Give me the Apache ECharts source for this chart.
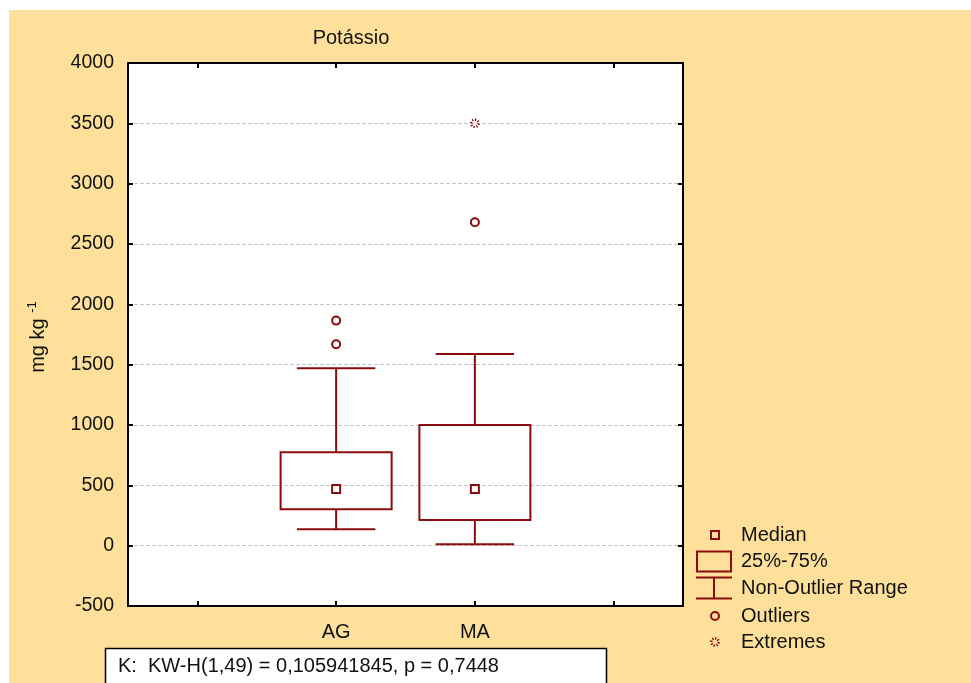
<!DOCTYPE html>
<html>
<head>
<meta charset="utf-8">
<script src="https://cdn.jsdelivr.net/npm/echarts@6/dist/echarts.min.js"></script>
<style>
html,body{margin:0;padding:0;background:#fff;}
#bg{position:absolute;left:9px;top:10px;width:962px;height:673px;background:#fee09a;}
#main{position:absolute;left:0;top:0;width:971px;height:683px;}
</style>
</head>
<body>
<div id="bg"></div>
<div id="main"></div>
<script>
// ---- data ----
const categories = ['AG', 'MA'];
const whiskerLow = [136, 12];
const q1 = [302, 213];
const median = [470, 470];
const q3 = [774, 1000];
const whiskerHigh = [1470, 1589];
const outliers = [['AG', 1865], ['AG', 1669], ['MA', 2680]];
const extremes = [['MA', 3500]];
const yTicks = { min: -500, max: 4000, step: 500 };
const titleText = 'Potássio';
const statText = 'K:  KW-H(1,49) = 0,105941845, p = 0,7448';
const legendItems = ['Median', '25%-75%', 'Non-Outlier Range', 'Outliers', 'Extremes'];

// ---- styles ----
const RED = '#8b0c0c';
const FONT = 'Liberation Sans, Arial, sans-serif';
const FS = 20;
const FS_TICK = 19.5;
const TXT = '#111';

const axisCats = [''].concat(categories, ['']);
const boxData = categories.map((c, i) => [c, whiskerLow[i], q1[i], median[i], q3[i], whiskerHigh[i]]);

function renderBox(params, api) {
  const x = api.value(0);
  const pLow = api.coord([x, api.value(1)]);
  const pQ1 = api.coord([x, api.value(2)]);
  const pMed = api.coord([x, api.value(3)]);
  const pQ3 = api.coord([x, api.value(4)]);
  const pHigh = api.coord([x, api.value(5)]);
  const band = api.size([1, 0])[0];
  const bw = band * 0.8;
  const cw = band * 0.565;
  const cx = pMed[0];
  const st = { stroke: RED, lineWidth: 2, fill: null };
  return {
    type: 'group',
    children: [
      { type: 'line', shape: { x1: cx, y1: pQ3[1], x2: cx, y2: pHigh[1] }, style: st },
      { type: 'line', shape: { x1: cx, y1: pQ1[1], x2: cx, y2: pLow[1] }, style: st },
      { type: 'line', shape: { x1: cx - cw / 2, y1: pHigh[1], x2: cx + cw / 2, y2: pHigh[1] }, style: st },
      { type: 'line', shape: { x1: cx - cw / 2, y1: pLow[1], x2: cx + cw / 2, y2: pLow[1] }, style: st },
      { type: 'rect', shape: { x: cx - bw / 2, y: pQ3[1], width: bw, height: pQ1[1] - pQ3[1] }, style: { stroke: RED, lineWidth: 2, fill: 'rgba(255,255,255,0)' } },
      { type: 'rect', shape: { x: cx - 4, y: pMed[1] - 4, width: 8, height: 8 }, style: { stroke: RED, lineWidth: 2, fill: '#fff' } }
    ]
  };
}

function starburst(cx, cy) {
  const ch = [];
  for (let k = 0; k < 8; k++) {
    const a = k * Math.PI / 4 + 0.2;
    ch.push({ type: 'line', shape: { x1: cx + 2.5 * Math.cos(a), y1: cy + 2.5 * Math.sin(a), x2: cx + 5 * Math.cos(a), y2: cy + 5 * Math.sin(a) }, style: { stroke: RED, lineWidth: 1.3 } });
  }
  return ch;
}

function renderExtreme(params, api) {
  const p = api.coord([api.value(0), api.value(1)]);
  return { type: 'group', children: starburst(p[0], p[1]) };
}

// legend graphics
const LX = 715, LT = 741;
const legendY = [535, 561, 588, 616, 642];
const legendGraphics = [
  { type: 'rect', shape: { x: LX - 4, y: legendY[0] - 4, width: 8, height: 8 }, style: { stroke: RED, lineWidth: 2, fill: null } },
  { type: 'rect', shape: { x: 697, y: 551.5, width: 34, height: 20 }, style: { stroke: RED, lineWidth: 2, fill: null } },
  { type: 'line', shape: { x1: 696, y1: 577.5, x2: 732, y2: 577.5 }, style: { stroke: RED, lineWidth: 2 } },
  { type: 'line', shape: { x1: 696, y1: 598.5, x2: 732, y2: 598.5 }, style: { stroke: RED, lineWidth: 2 } },
  { type: 'line', shape: { x1: 714, y1: 577.5, x2: 714, y2: 598.5 }, style: { stroke: RED, lineWidth: 2 } },
  { type: 'circle', shape: { cx: LX, cy: legendY[3], r: 4 }, style: { stroke: RED, lineWidth: 2, fill: null } },
  { type: 'group', children: starburst(LX, legendY[4]) }
].concat(legendItems.map((t, i) => ({
  type: 'text', x: LT, y: legendY[i],
  style: { text: t, font: FS + 'px ' + FONT, fill: TXT, verticalAlign: 'middle' }
})));

const chart = echarts.init(document.getElementById('main'), null, { renderer: 'canvas' });
const axisLineStyle = { show: true, onZero: false, lineStyle: { color: '#000', width: 2 } };
const tickStyle = { show: true, inside: true, length: 5, lineStyle: { color: '#000', width: 2 } };

chart.setOption({
  animation: false,
  backgroundColor: 'transparent',
  title: {
    text: titleText, left: 346, top: 23, textAlign: 'center',
    textStyle: { fontSize: FS, fontWeight: 'normal', color: TXT, fontFamily: FONT }
  },
  grid: { show: true, left: 128, top: 63, width: 555, height: 543, backgroundColor: '#fff', borderWidth: 0 },
  xAxis: [
    {
      type: 'category', data: axisCats, position: 'bottom', boundaryGap: true,
      axisLine: axisLineStyle, axisTick: Object.assign({ alignWithLabel: true, interval: 0 }, tickStyle),
      axisLabel: { interval: 0, fontSize: FS, color: TXT, fontFamily: FONT, margin: 16 },
      splitLine: { show: false }
    },
    {
      type: 'category', data: axisCats, position: 'top', boundaryGap: true,
      axisLine: axisLineStyle, axisTick: Object.assign({ alignWithLabel: true, interval: 0 }, tickStyle),
      axisLabel: { show: false }, splitLine: { show: false }
    }
  ],
  yAxis: [
    {
      type: 'value', min: yTicks.min, max: yTicks.max, interval: yTicks.step, position: 'left',
      axisLine: axisLineStyle, axisTick: tickStyle,
      axisLabel: { fontSize: FS_TICK, color: TXT, fontFamily: FONT, margin: 14, formatter: v => String(v) },
      splitLine: { show: true, lineStyle: { color: '#c4c4c4', type: [4, 2], width: 1 } }
    },
    {
      type: 'value', min: yTicks.min, max: yTicks.max, interval: yTicks.step, position: 'right',
      axisLine: axisLineStyle, axisTick: tickStyle,
      axisLabel: { show: false }, splitLine: { show: false }
    }
  ],
  series: [
    {
      type: 'custom', xAxisIndex: 0, yAxisIndex: 0, data: boxData,
      encode: { x: 0, y: [1, 2, 3, 4, 5] }, renderItem: renderBox, z: 5
    },
    {
      type: 'scatter', xAxisIndex: 0, yAxisIndex: 0, data: outliers,
      symbol: 'circle', symbolSize: 8,
      itemStyle: { color: '#fff', borderColor: RED, borderWidth: 2, opacity: 1 }, z: 6
    },
    {
      type: 'custom', xAxisIndex: 0, yAxisIndex: 0, data: extremes,
      encode: { x: 0, y: 1 }, renderItem: renderExtreme, z: 6
    }
  ],
  graphic: [
    {
      type: 'text', x: 38, y: 337, rotation: Math.PI / 2,
      style: {
        text: 'mg kg {sup|-1}', font: FS + 'px ' + FONT, fill: TXT,
        align: 'center', verticalAlign: 'middle',
        rich: { sup: { fontSize: 13, fontFamily: FONT, fill: TXT, verticalAlign: 'top', padding: [0, 0, 12, 0] } }
      }
    },
    {
      type: 'rect', shape: { x: 105.5, y: 648.5, width: 501, height: 45 },
      style: { fill: '#fff', stroke: '#000', lineWidth: 1.5 }
    },
    {
      type: 'text', x: 118, y: 666,
      style: { text: statText, font: FS + 'px ' + FONT, fill: TXT, verticalAlign: 'middle' }
    }
  ].concat(legendGraphics)
});
</script>
</body>
</html>
